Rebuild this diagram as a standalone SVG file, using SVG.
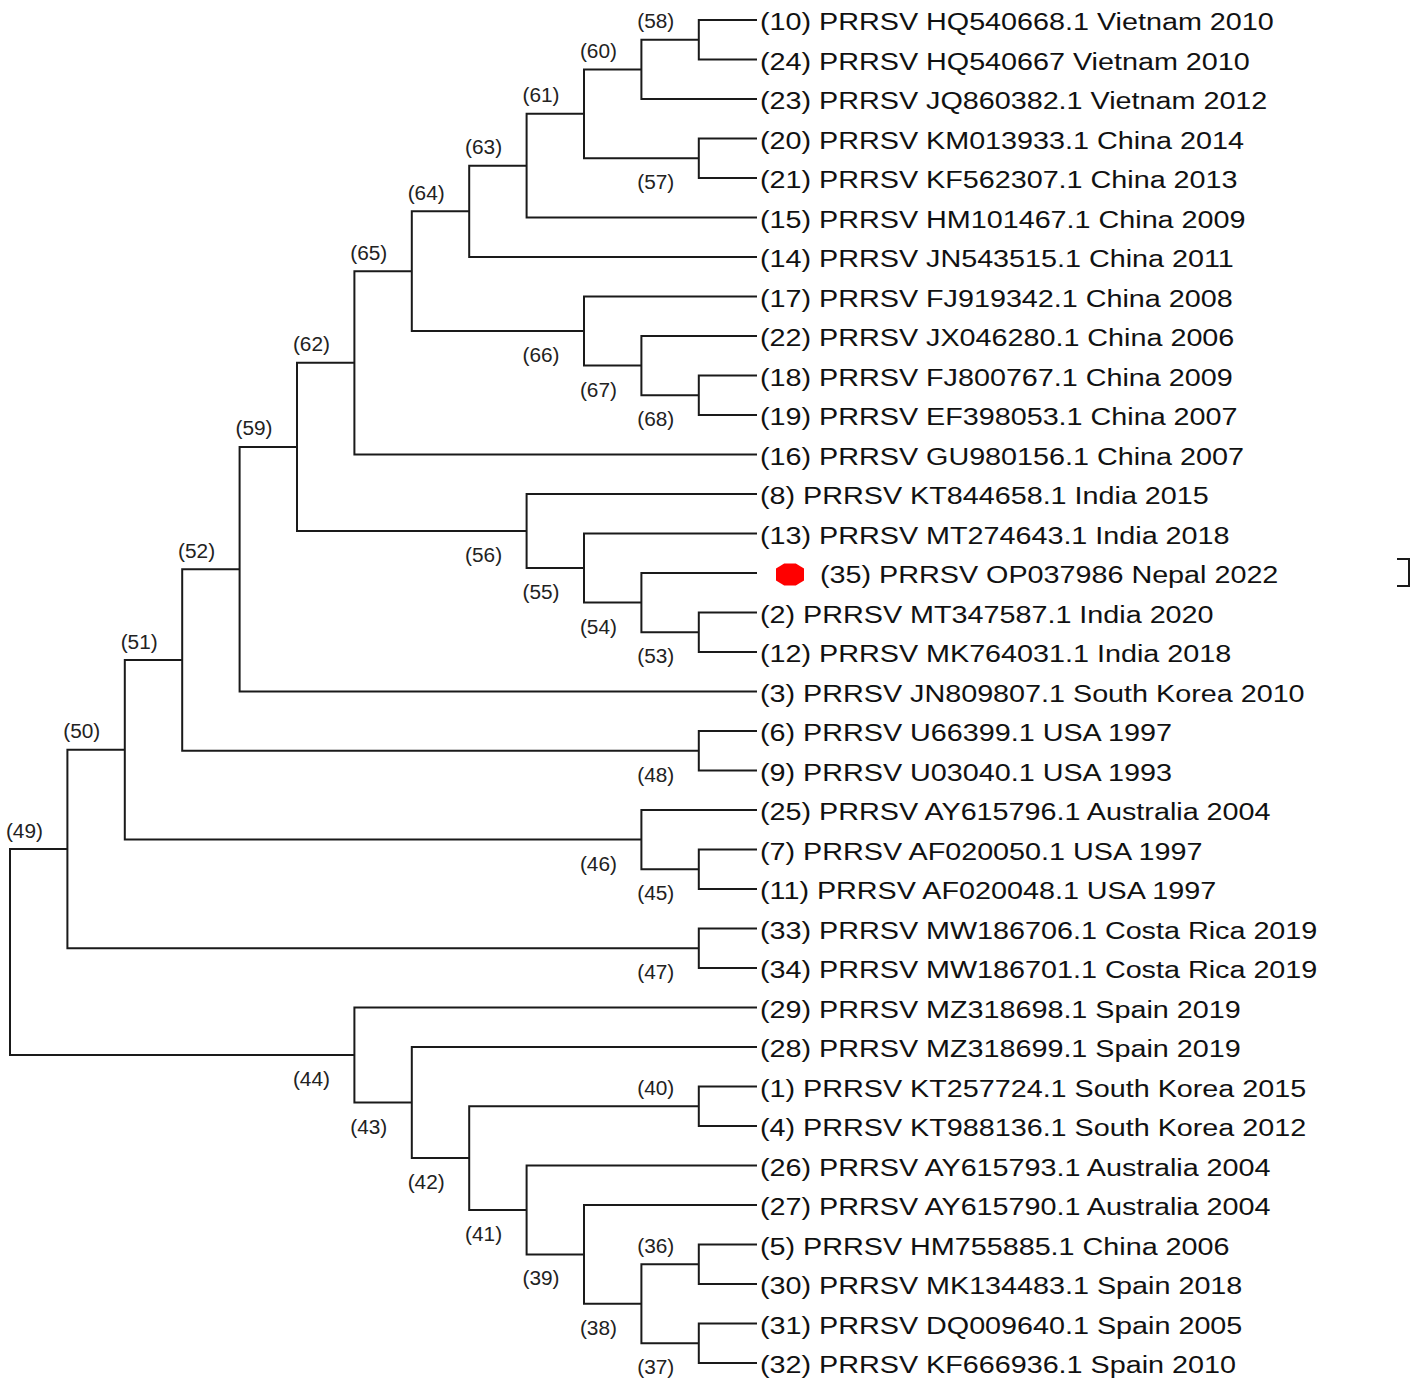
<svg xmlns="http://www.w3.org/2000/svg" width="1417" height="1388" viewBox="0 0 1417 1388">
<style>
.br{fill:none;stroke:#1a1a1a;stroke-width:2}
.nl{font-family:"Liberation Sans",Arial,sans-serif;font-size:20px;fill:#222;text-anchor:middle}
.lf{font-family:"Liberation Sans",Arial,sans-serif;font-size:23px;fill:#111}
</style>
<rect width="1417" height="1388" fill="#fff"/>
<g id="connectors" class="br">
<path d="M757 20 H698.8 V59.5 H757"/>
<path d="M698.8 39.75 H641.4 V99 H757"/>
<path d="M757 138.5 H698.8 V178 H757"/>
<path d="M641.4 69.4 H584 V158.25 H698.8"/>
<path d="M584 113.8 H526.6 V217.5 H757"/>
<path d="M526.6 165.7 H469.2 V257 H757"/>
<path d="M757 375.5 H698.8 V415 H757"/>
<path d="M757 336 H641.4 V395.25 H698.8"/>
<path d="M757 296.5 H584 V365.6 H641.4"/>
<path d="M469.2 211.3 H411.8 V331.1 H584"/>
<path d="M411.8 271.2 H354.4 V454.5 H757"/>
<path d="M757 612.5 H698.8 V652 H757"/>
<path d="M757 573 H641.4 V632.25 H698.8"/>
<path d="M757 533.5 H584 V602.6 H641.4"/>
<path d="M757 494 H526.6 V568.1 H584"/>
<path d="M354.4 362.85 H297 V531 H526.6"/>
<path d="M297 446.9 H239.6 V691.5 H757"/>
<path d="M757 731 H698.8 V770.5 H757"/>
<path d="M239.6 569.2 H182.2 V750.75 H698.8"/>
<path d="M757 849.5 H698.8 V889 H757"/>
<path d="M757 810 H641.4 V869.25 H698.8"/>
<path d="M182.2 660 H124.8 V839.6 H641.4"/>
<path d="M757 928.5 H698.8 V968 H757"/>
<path d="M124.8 749.8 H67.4 V948.25 H698.8"/>
<path d="M67.4 849 H10 V1055 H354.4"/>
<path d="M757 1086.5 H698.8 V1126 H757"/>
<path d="M757 1244.5 H698.8 V1284 H757"/>
<path d="M757 1323.5 H698.8 V1363 H757"/>
<path d="M698.8 1264.25 H641.4 V1343.25 H698.8"/>
<path d="M757 1205 H584 V1303.75 H641.4"/>
<path d="M757 1165.5 H526.6 V1254.4 H584"/>
<path d="M698.8 1106.25 H469.2 V1209.9 H526.6"/>
<path d="M757 1047 H411.8 V1158.1 H469.2"/>
<path d="M757 1007.5 H354.4 V1102.5 H411.8"/>
<path d="M1397 559 H1409 V586 H1397"/>
</g>
<g id="internal-nodes">
<g id="n58"><text class="nl" x="655.8" y="28.3" textLength="37" lengthAdjust="spacingAndGlyphs">(58)</text></g>
<g id="n60"><text class="nl" x="598.4" y="57.9" textLength="37" lengthAdjust="spacingAndGlyphs">(60)</text></g>
<g id="n57"><text class="nl" x="655.8" y="189.3" textLength="37" lengthAdjust="spacingAndGlyphs">(57)</text></g>
<g id="n61"><text class="nl" x="541" y="102.3" textLength="37" lengthAdjust="spacingAndGlyphs">(61)</text></g>
<g id="n63"><text class="nl" x="483.6" y="154.2" textLength="37" lengthAdjust="spacingAndGlyphs">(63)</text></g>
<g id="n64"><text class="nl" x="426.2" y="199.8" textLength="37" lengthAdjust="spacingAndGlyphs">(64)</text></g>
<g id="n65"><text class="nl" x="368.8" y="259.7" textLength="37" lengthAdjust="spacingAndGlyphs">(65)</text></g>
<g id="n62"><text class="nl" x="311.4" y="351.4" textLength="37" lengthAdjust="spacingAndGlyphs">(62)</text></g>
<g id="n59"><text class="nl" x="254" y="435.4" textLength="37" lengthAdjust="spacingAndGlyphs">(59)</text></g>
<g id="n52"><text class="nl" x="196.6" y="557.7" textLength="37" lengthAdjust="spacingAndGlyphs">(52)</text></g>
<g id="n51"><text class="nl" x="139.2" y="648.5" textLength="37" lengthAdjust="spacingAndGlyphs">(51)</text></g>
<g id="n50"><text class="nl" x="81.8" y="738.3" textLength="37" lengthAdjust="spacingAndGlyphs">(50)</text></g>
<g id="n49"><text class="nl" x="24.4" y="837.5" textLength="37" lengthAdjust="spacingAndGlyphs">(49)</text></g>
<g id="n68"><text class="nl" x="655.8" y="426.3" textLength="37" lengthAdjust="spacingAndGlyphs">(68)</text></g>
<g id="n67"><text class="nl" x="598.4" y="396.6" textLength="37" lengthAdjust="spacingAndGlyphs">(67)</text></g>
<g id="n66"><text class="nl" x="541" y="362.1" textLength="37" lengthAdjust="spacingAndGlyphs">(66)</text></g>
<g id="n53"><text class="nl" x="655.8" y="663.3" textLength="37" lengthAdjust="spacingAndGlyphs">(53)</text></g>
<g id="n54"><text class="nl" x="598.4" y="633.6" textLength="37" lengthAdjust="spacingAndGlyphs">(54)</text></g>
<g id="n55"><text class="nl" x="541" y="599.1" textLength="37" lengthAdjust="spacingAndGlyphs">(55)</text></g>
<g id="n56"><text class="nl" x="483.6" y="562" textLength="37" lengthAdjust="spacingAndGlyphs">(56)</text></g>
<g id="n48"><text class="nl" x="655.8" y="781.8" textLength="37" lengthAdjust="spacingAndGlyphs">(48)</text></g>
<g id="n45"><text class="nl" x="655.8" y="900.3" textLength="37" lengthAdjust="spacingAndGlyphs">(45)</text></g>
<g id="n46"><text class="nl" x="598.4" y="870.6" textLength="37" lengthAdjust="spacingAndGlyphs">(46)</text></g>
<g id="n47"><text class="nl" x="655.8" y="979.3" textLength="37" lengthAdjust="spacingAndGlyphs">(47)</text></g>
<g id="n40"><text class="nl" x="655.8" y="1094.8" textLength="37" lengthAdjust="spacingAndGlyphs">(40)</text></g>
<g id="n36"><text class="nl" x="655.8" y="1252.8" textLength="37" lengthAdjust="spacingAndGlyphs">(36)</text></g>
<g id="n37"><text class="nl" x="655.8" y="1374.3" textLength="37" lengthAdjust="spacingAndGlyphs">(37)</text></g>
<g id="n38"><text class="nl" x="598.4" y="1334.8" textLength="37" lengthAdjust="spacingAndGlyphs">(38)</text></g>
<g id="n39"><text class="nl" x="541" y="1285.4" textLength="37" lengthAdjust="spacingAndGlyphs">(39)</text></g>
<g id="n41"><text class="nl" x="483.6" y="1240.9" textLength="37" lengthAdjust="spacingAndGlyphs">(41)</text></g>
<g id="n42"><text class="nl" x="426.2" y="1189.1" textLength="37" lengthAdjust="spacingAndGlyphs">(42)</text></g>
<g id="n43"><text class="nl" x="368.8" y="1133.5" textLength="37" lengthAdjust="spacingAndGlyphs">(43)</text></g>
<g id="n44"><text class="nl" x="311.4" y="1086" textLength="37" lengthAdjust="spacingAndGlyphs">(44)</text></g>
</g>
<g id="marker35"><polygon points="784.2,563.5 795.8,563.5 804,568.4 804,580.6 795.8,585.5 784.2,585.5 776,580.6 776,568.4" fill="#f00"/></g>
<g id="leaves" transform="translate(760 0) scale(1.25 1)">
<g id="leaf10"><text class="lf" x="0" y="30.5">(10) PRRSV HQ540668.1 Vietnam 2010</text></g>
<g id="leaf24"><text class="lf" x="0" y="70">(24) PRRSV HQ540667 Vietnam 2010</text></g>
<g id="leaf23"><text class="lf" x="0" y="109.5">(23) PRRSV JQ860382.1 Vietnam 2012</text></g>
<g id="leaf20"><text class="lf" x="0" y="149">(20) PRRSV KM013933.1 China 2014</text></g>
<g id="leaf21"><text class="lf" x="0" y="188.5">(21) PRRSV KF562307.1 China 2013</text></g>
<g id="leaf15"><text class="lf" x="0" y="228">(15) PRRSV HM101467.1 China 2009</text></g>
<g id="leaf14"><text class="lf" x="0" y="267.5">(14) PRRSV JN543515.1 China 2011</text></g>
<g id="leaf17"><text class="lf" x="0" y="307">(17) PRRSV FJ919342.1 China 2008</text></g>
<g id="leaf22"><text class="lf" x="0" y="346.5">(22) PRRSV JX046280.1 China 2006</text></g>
<g id="leaf18"><text class="lf" x="0" y="386">(18) PRRSV FJ800767.1 China 2009</text></g>
<g id="leaf19"><text class="lf" x="0" y="425.5">(19) PRRSV EF398053.1 China 2007</text></g>
<g id="leaf16"><text class="lf" x="0" y="465">(16) PRRSV GU980156.1 China 2007</text></g>
<g id="leaf8"><text class="lf" x="0" y="504.5">(8) PRRSV KT844658.1 India 2015</text></g>
<g id="leaf13"><text class="lf" x="0" y="544">(13) PRRSV MT274643.1 India 2018</text></g>
<g id="leaf35"><text class="lf" x="48" y="583.5">(35) PRRSV OP037986 Nepal 2022</text></g>
<g id="leaf2"><text class="lf" x="0" y="623">(2) PRRSV MT347587.1 India 2020</text></g>
<g id="leaf12"><text class="lf" x="0" y="662.5">(12) PRRSV MK764031.1 India 2018</text></g>
<g id="leaf3"><text class="lf" x="0" y="702">(3) PRRSV JN809807.1 South Korea 2010</text></g>
<g id="leaf6"><text class="lf" x="0" y="741.5">(6) PRRSV U66399.1 USA 1997</text></g>
<g id="leaf9"><text class="lf" x="0" y="781">(9) PRRSV U03040.1 USA 1993</text></g>
<g id="leaf25"><text class="lf" x="0" y="820.5">(25) PRRSV AY615796.1 Australia 2004</text></g>
<g id="leaf7"><text class="lf" x="0" y="860">(7) PRRSV AF020050.1 USA 1997</text></g>
<g id="leaf11"><text class="lf" x="0" y="899.5">(11) PRRSV AF020048.1 USA 1997</text></g>
<g id="leaf33"><text class="lf" x="0" y="939">(33) PRRSV MW186706.1 Costa Rica 2019</text></g>
<g id="leaf34"><text class="lf" x="0" y="978.5">(34) PRRSV MW186701.1 Costa Rica 2019</text></g>
<g id="leaf29"><text class="lf" x="0" y="1018">(29) PRRSV MZ318698.1 Spain 2019</text></g>
<g id="leaf28"><text class="lf" x="0" y="1057.5">(28) PRRSV MZ318699.1 Spain 2019</text></g>
<g id="leaf1"><text class="lf" x="0" y="1097">(1) PRRSV KT257724.1 South Korea 2015</text></g>
<g id="leaf4"><text class="lf" x="0" y="1136.5">(4) PRRSV KT988136.1 South Korea 2012</text></g>
<g id="leaf26"><text class="lf" x="0" y="1176">(26) PRRSV AY615793.1 Australia 2004</text></g>
<g id="leaf27"><text class="lf" x="0" y="1215.5">(27) PRRSV AY615790.1 Australia 2004</text></g>
<g id="leaf5"><text class="lf" x="0" y="1255">(5) PRRSV HM755885.1 China 2006</text></g>
<g id="leaf30"><text class="lf" x="0" y="1294.5">(30) PRRSV MK134483.1 Spain 2018</text></g>
<g id="leaf31"><text class="lf" x="0" y="1334">(31) PRRSV DQ009640.1 Spain 2005</text></g>
<g id="leaf32"><text class="lf" x="0" y="1373.5">(32) PRRSV KF666936.1 Spain 2010</text></g>
</g>
</svg>
